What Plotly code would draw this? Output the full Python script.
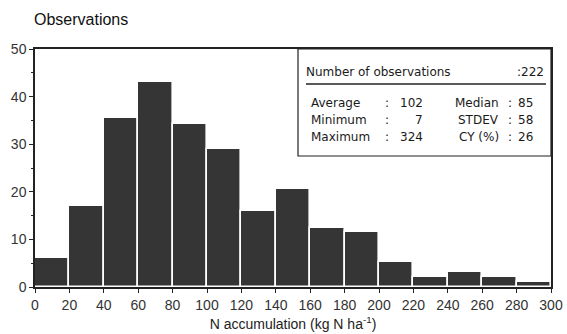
import plotly.graph_objects as go

bin_starts = [0, 20, 40, 60, 80, 100, 120, 140, 160, 180, 200, 220, 240, 260, 280]
bin_width = 20
counts = [6, 17, 35.5, 43, 34.3, 29, 16, 20.6, 12.5, 11.5, 5.3, 2, 3.2, 2, 1]
x_ticks = list(range(0, 301, 20))
y_ticks = [0, 10, 20, 30, 40, 50]

stats_left = [("Average", "102"), ("Minimum", "7"), ("Maximum", "324")]
stats_right = [("Median", "85"), ("STDEV", "58"), ("CY (%)", "26")]
n_obs = "222"

# layout geometry (pixels)
W, H = 567, 334
L, R, T, B = 35, 551, 49, 287

def px(x):
    return (x - L) / (R - L)

def py(y):
    return (B - y) / (B - T)

fig = go.Figure()
fig.add_trace(go.Bar(
    x=[s + bin_width / 2 for s in bin_starts],
    y=counts,
    width=[bin_width] * len(counts),
    marker=dict(color="#353535", line=dict(color="white", width=1.6)),
    hoverinfo="skip",
))

font_main = "Liberation Sans, Arial, sans-serif"
font_box = "DejaVu Sans, sans-serif"
tc = "#1a1a1a"
bs = 12

ann = []
ann.append(dict(text="Observations", x=px(32), y=py(20), xref="paper", yref="paper",
                xanchor="left", yanchor="middle", showarrow=False,
                font=dict(family=font_main, size=16, color="#111")))
ann.append(dict(text="Number of observations", x=px(304), y=py(72), xref="paper", yref="paper",
                xanchor="left", yanchor="middle", showarrow=False,
                font=dict(family=font_box, size=bs, color=tc)))
ann.append(dict(text=":" + n_obs, x=px(546), y=py(72), xref="paper", yref="paper",
                xanchor="right", yanchor="middle", showarrow=False,
                font=dict(family=font_box, size=bs, color=tc)))
rows_y = [103, 120, 137]
for (lab, val), (lab2, val2), yy in zip(stats_left, stats_right, rows_y):
    ann.append(dict(text=lab, x=px(309), y=py(yy), xref="paper", yref="paper",
                    xanchor="left", yanchor="middle", showarrow=False,
                    font=dict(family=font_box, size=bs, color=tc)))
    ann.append(dict(text=":", x=px(387), y=py(yy), xref="paper", yref="paper",
                    xanchor="center", yanchor="middle", showarrow=False,
                    font=dict(family=font_box, size=bs, color=tc)))
    ann.append(dict(text=val, x=px(425), y=py(yy), xref="paper", yref="paper",
                    xanchor="right", yanchor="middle", showarrow=False,
                    font=dict(family=font_box, size=bs, color=tc)))
    ann.append(dict(text=lab2, x=px(501), y=py(yy), xref="paper", yref="paper",
                    xanchor="right", yanchor="middle", showarrow=False,
                    font=dict(family=font_box, size=bs, color=tc)))
    ann.append(dict(text=":", x=px(510), y=py(yy), xref="paper", yref="paper",
                    xanchor="center", yanchor="middle", showarrow=False,
                    font=dict(family=font_box, size=bs, color=tc)))
    ann.append(dict(text=val2, x=px(516), y=py(yy), xref="paper", yref="paper",
                    xanchor="left", yanchor="middle", showarrow=False,
                    font=dict(family=font_box, size=bs, color=tc)))

shapes = [
    dict(type="rect", xref="paper", yref="paper", x0=px(298), x1=1, y0=py(156), y1=1,
         line=dict(color="#222", width=1.2), fillcolor="white", layer="above"),
    dict(type="line", xref="paper", yref="paper", x0=px(306), x1=px(546), y0=py(84), y1=py(84),
         line=dict(color="#222", width=1.5)),
]

fig.update_layout(
    width=W, height=H,
    margin=dict(l=L, r=W - R, t=T, b=H - B, autoexpand=False),
    paper_bgcolor="white", plot_bgcolor="white",
    showlegend=False,
    bargap=0,
    annotations=ann,
    shapes=shapes,
    xaxis=dict(range=[0, 300], tickvals=x_ticks, ticktext=[str(v) for v in x_ticks],
               automargin=False,
               showgrid=False, zeroline=False, showline=True, linecolor="#222", linewidth=1.5,
               mirror=True, ticks="outside", ticklen=4, tickwidth=1.2, tickcolor="#222",
               tickfont=dict(family=font_main, size=14, color="#333"),
               title=dict(text="N accumulation (kg N ha<sup>-1</sup>)", standoff=8,
                          font=dict(family=font_main, size=14, color="#222"))),
    yaxis=dict(range=[0, 50], tickvals=y_ticks, showgrid=False, zeroline=False,
               automargin=False,
               showline=True, linecolor="#222", linewidth=1.5, mirror=True,
               ticks="outside", ticklen=4, tickwidth=1.2, tickcolor="#222",
               minor=dict(dtick=5, ticks="outside", ticklen=2, tickcolor="#222"),
               tickfont=dict(family=font_main, size=14, color="#333")),
)

fig.write_html("out.html", config={"displayModeBar": False},
               post_script="document.body.style.margin='0px';")
